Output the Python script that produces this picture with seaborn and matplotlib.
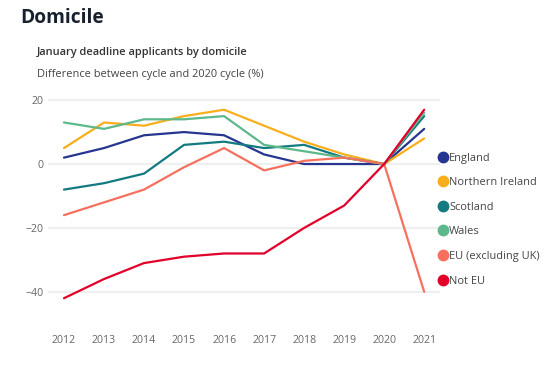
import matplotlib
matplotlib.use("Agg")
import matplotlib.pyplot as plt
from matplotlib.lines import Line2D
import seaborn as sns
import pandas as pd

years = [2012, 2013, 2014, 2015, 2016, 2017, 2018, 2019, 2020, 2021]
series = ["England", "Northern Ireland", "Scotland", "Wales", "EU (excluding UK)", "Not EU"]
england = [2, 5, 9, 10, 9, 3, 0, 0, 0, 11]
northern_ireland = [5, 13, 12, 15, 17, 12, 7, 3, 0, 8]
scotland = [-8, -6, -3, 6, 7, 5, 6, 2, 0, 15]
wales = [13, 11, 14, 14, 15, 6, 4, 2, 0, 16]
eu = [-16, -12, -8, -1, 5, -2, 1, 2, 0, -40]
not_eu = [-42, -36, -31, -29, -28, -28, -20, -13, 0, 17]
values = [england, northern_ireland, scotland, wales, eu, not_eu]
colors = ["#26368F", "#F9AE1B", "#137A7F", "#5DB88C", "#F7705E", "#E2002B"]
yticks = [20, 0, -20, -40]

rows = []
for name, vals in zip(series, values):
    for yr, v in zip(years, vals):
        rows.append({"Year": yr, "Value": v, "Series": name})
df = pd.DataFrame(rows)

sns.set_theme(style="white")
plt.rcParams["font.family"] = ["Open Sans", "DejaVu Sans"]

fig = plt.figure(figsize=(5.54, 3.72), dpi=100)
ax = fig.add_axes([0.0866, 0.164, 0.708, 0.584])

sns.lineplot(data=df, x="Year", y="Value", hue="Series", hue_order=series,
             palette=colors, linewidth=1.6, ax=ax, legend=False)

ax.set_xlim(2011.6, 2021.4)
ax.set_ylim(-46, 22)
ax.set_yticks(yticks)
ax.set_xticks(years)
ax.set_xticklabels([str(y) for y in years])
ax.set_xlabel("")
ax.set_ylabel("")
for s in ax.spines.values():
    s.set_visible(False)
ax.grid(False)
for t in yticks:
    ax.axhline(t, color="#EFEFEF", linewidth=1.5, zorder=0)
ax.tick_params(axis="x", length=0, pad=17, labelsize=7.6, labelcolor="#666666")
ax.tick_params(axis="y", length=0, pad=3, labelsize=7.6, labelcolor="#666666")
for lbl in ax.get_yticklabels():
    lbl.set_horizontalalignment("right")

handles = [Line2D([0], [0], marker="o", linestyle="", markersize=7.5,
                  markerfacecolor=c, markeredgecolor=c) for c in colors]
fig.legend(handles, series, loc="upper left", bbox_to_anchor=(0.79, 0.59),
           frameon=False, fontsize=7.9, labelcolor="#444444",
           handletextpad=0.05, labelspacing=1.24, handlelength=1.0,
           borderaxespad=0, borderpad=0)

fig.text(20 / 554, 1 - 18 / 372, "Domicile", fontsize=13.8, fontweight="bold",
         color="#17202E", va="center", ha="left")
fig.text(37 / 554, 1 - 52 / 372, "January deadline applicants by domicile",
         fontsize=7.9, fontweight="semibold", color="#333333", va="center", ha="left")
fig.text(37 / 554, 1 - 75 / 372, "Difference between cycle and 2020 cycle (%)",
         fontsize=7.9, color="#444444", va="center", ha="left")

fig.savefig("out.png", dpi=100)
